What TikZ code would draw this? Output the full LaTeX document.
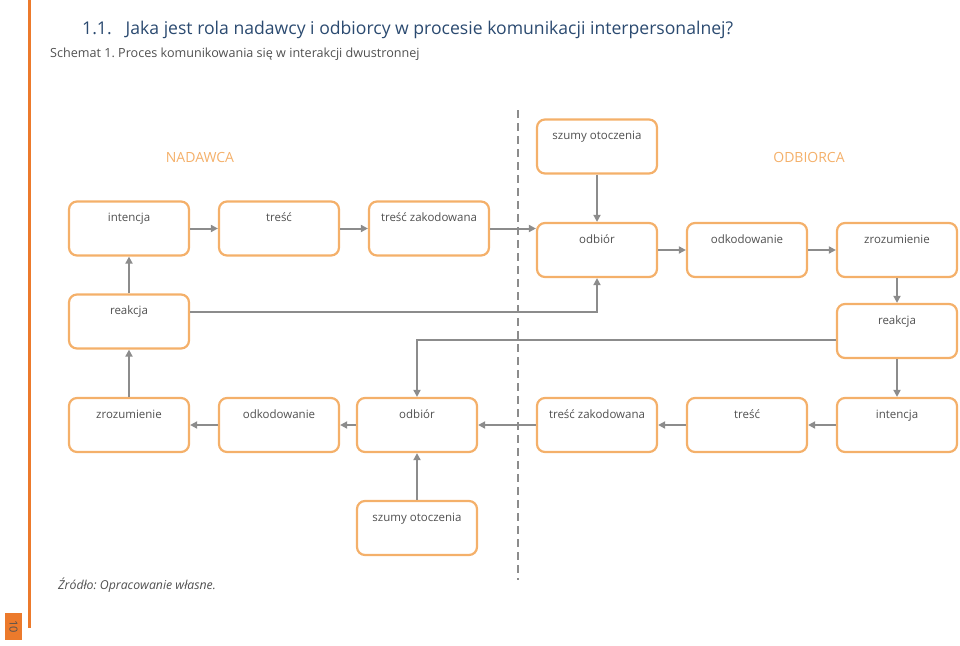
\documentclass[tikz,border=0pt]{standalone}
\usepackage{fontspec}
\setmainfont{Open Sans}
\usepackage{tikz}
\usetikzlibrary{arrows.meta, positioning, calc}
\frenchspacing

\definecolor{boxorange}{HTML}{F4B06A}
\definecolor{barorange}{HTML}{EC7A2C}
\definecolor{linegray}{HTML}{8C8C8C}
\definecolor{txtgray}{HTML}{505050}
\definecolor{titleblue}{HTML}{2B4A70}

\tikzset{
  stage/.style={draw=boxorange, line width=2.2pt, rounded corners=8pt, inner sep=0pt,
    minimum width=120pt, text height=20pt, text depth=34pt, text=txtgray,
    font=\fontsize{11.5}{13}\selectfont},
  flow/.style={draw=linegray, line width=2pt, -{Triangle[length=7pt,width=7pt]}},
  side/.style={text=boxorange, font=\fontsize{14}{16}\selectfont},
  plain/.style={anchor=base west, inner sep=0pt},
}

\begin{document}
\begin{tikzpicture}[x=1pt,y=-1pt]
		\useasboundingbox (0,0) rectangle (960,645);

		% Page frame
		\fill[barorange] (27.5,0) rectangle (30.5,628);
		\node[fill=barorange, minimum width=17pt, minimum height=27pt, inner sep=0pt] (pagenr) at (13.5,626.5) {};
		\node[rotate=-90, text=txtgray, font=\fontsize{11}{12}\selectfont] (pagetxt) at (pagenr) {10};
		\node[plain, text=titleblue, font=\fontsize{17.6}{20}\selectfont] (title) at (82,34)
			{1.1.\hspace{14pt}Jaka jest rola nadawcy i odbiorcy w procesie komunikacji interpersonalnej?};
		\node[plain, text=txtgray, font=\fontsize{12.6}{14}\selectfont] (caption) at (50,57)
			{Schemat 1. Proces komunikowania się w interakcji dwustronnej};
		\node[plain, text=txtgray, font=\fontsize{12.3}{14}\itshape] (source) at (58,589)
			{Źródło: Opracowanie własne.};

		% Sides
		\draw[linegray, line width=2.4pt, dash pattern=on 8pt off 5pt] (518,110) coordinate (split-top) -- (518,580) coordinate (split-bot);
		\node[side] (nadawca) at (200,157) {NADAWCA};
		\node[side] (odbiorca) at (809,157) {ODBIORCA};

		% Sender row
		\node[stage] (int1) at (129,228.5) {intencja};
		\node[stage] (tre1) at (279,228.5) {treść};
		\node[stage] (zak1) at (429,228.5) {treść zakodowana};
		\node[stage] (rea1) at (129,321.5) {reakcja};

		% Receiver row
		\node[stage] (szu1) at (597,146.5) {szumy otoczenia};
		\node[stage] (odb1) at (597,250) {odbiór};
		\node[stage] (odk1) at (747,250) {odkodowanie};
		\node[stage] (zro1) at (897,250) {zrozumienie};
		\node[stage] (rea2) at (897,331) {reakcja};

		% Answer row
		\node[stage] (zro2) at (129,425) {zrozumienie};
		\node[stage] (odk2) at (279,425) {odkodowanie};
		\node[stage] (odb2) at (417,425) {odbiór};
		\node[stage] (zak2) at (597,425) {treść zakodowana};
		\node[stage] (tre2) at (747,425) {treść};
		\node[stage] (int2) at (897,425) {intencja};
		\node[stage] (szu2) at (417,528) {szumy otoczenia};

		\draw[flow] (int1) -- (tre1);
		\draw[flow] (tre1) -- (zak1);
		\draw[flow] (zak1.east) -- (zak1.east -| odb1.west);
		\draw[flow] (szu1) -- (odb1);
		\draw[flow] (odb1) -- (odk1);
		\draw[flow] (odk1) -- (zro1);
		\draw[flow] (zro1) -- (rea2);
		\draw[flow] (rea2) -- (int2);
		\draw[flow] (int2) -- (tre2);
		\draw[flow] (tre2) -- (zak2);
		\draw[flow] (zak2) -- (odb2);
		\draw[flow] (odb2) -- (odk2);
		\draw[flow] (odk2) -- (zro2);
		\draw[flow] (szu2) -- (odb2);
		\draw[flow] (zro2) -- (rea1);
		\draw[flow] (rea1) -- (int1);

		% Feedback
		\draw[flow] ($(rea1.east)+(0,-9.5)$) -| (odb1.south);
		\draw[flow] ($(rea2.west)+(0,9)$) -| (odb2.north);
	\end{tikzpicture}
\end{document}
